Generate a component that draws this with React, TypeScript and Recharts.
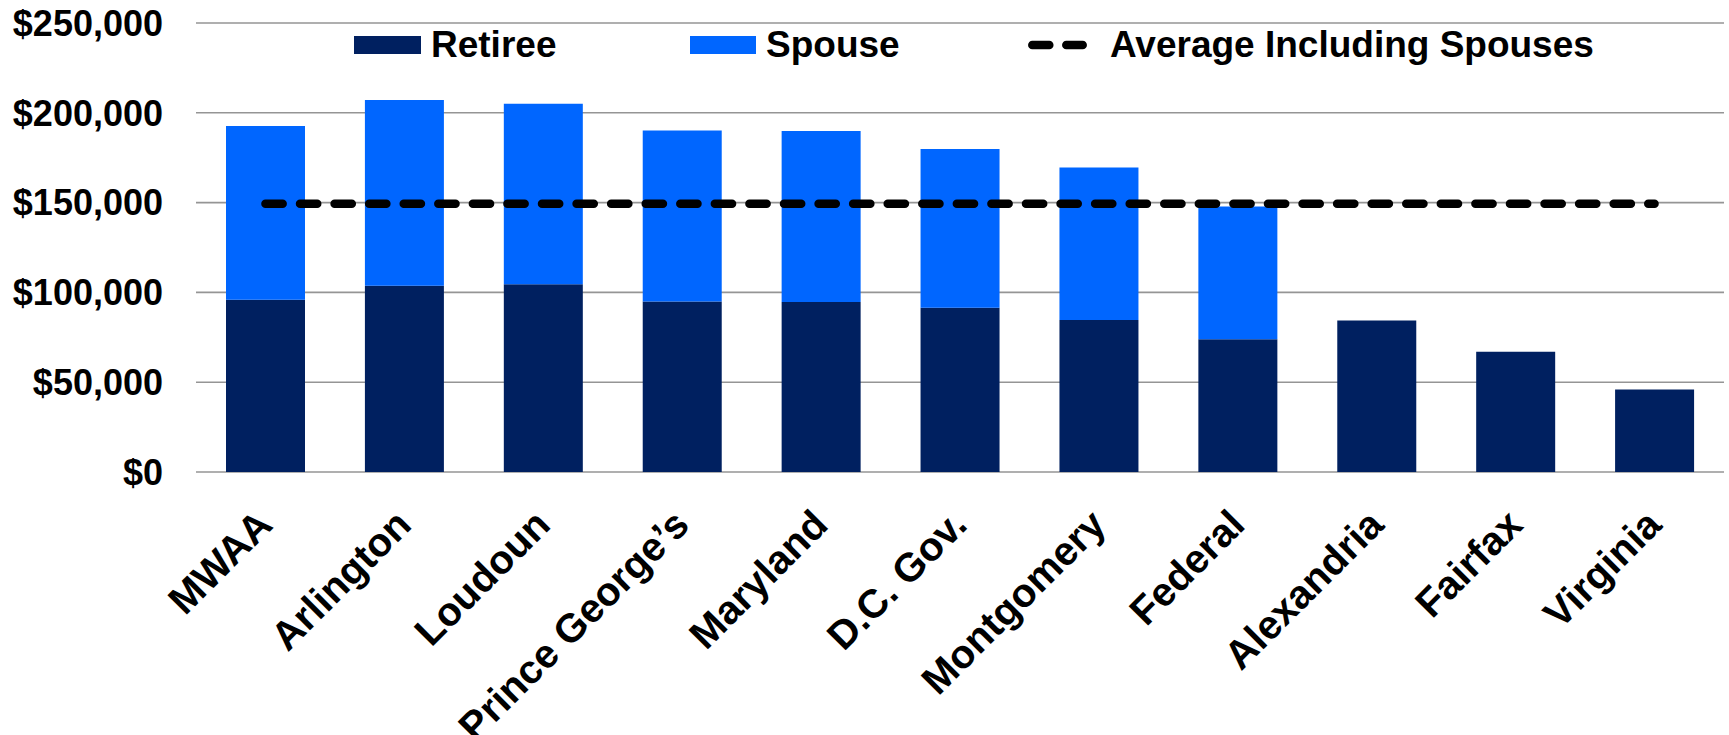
import React from 'react';
import { ComposedChart, Bar, Line, XAxis, YAxis, CartesianGrid, Legend } from 'recharts';

const categories = ['MWAA', 'Arlington', 'Loudoun', 'Prince George\u2019s', 'Maryland', 'D.C. Gov.', 'Montgomery', 'Federal', 'Alexandria', 'Fairfax', 'Virginia'];
const retireeValues = [95900, 103700, 104500, 95000, 94600, 91500, 84600, 73900, 84300, 67000, 45900];
const spouseTotals = [192700, 207100, 205000, 190100, 189800, 179900, 169500, 147800, null, null, null];
const averageIncludingSpouses = 149300;
const yTicks = [0, 50000, 100000, 150000, 200000, 250000];

const data = categories.map((name, i) => ({
  name,
  retiree: retireeValues[i],
  spouse: spouseTotals[i] == null ? 0 : (spouseTotals[i] as number) - retireeValues[i],
  average: averageIncludingSpouses,
}));

const FONT = '"Liberation Sans", Arial, Helvetica, sans-serif';
const NAVY = '#002060';
const BLUE = '#0066FF';

const fmt = (v: number) => '$' + v.toLocaleString('en-US');

const XTick = (props: any) => {
  const { x, y, payload } = props;
  const ax = x + 9;
  const ay = y + 55;
  return (
    <text
      x={ax}
      y={ay}
      textAnchor="end"
      transform={`rotate(-45, ${ax}, ${ay})`}
      fontFamily={FONT}
      fontWeight="bold"
      fontSize={40}
      fill="#000"
    >
      {payload.value}
    </text>
  );
};

const renderLegend = () => {
  const textStyle: React.CSSProperties = { fontFamily: FONT, fontWeight: 'bold', fontSize: 37, color: '#000', lineHeight: '44px', whiteSpace: 'nowrap' };
  return (
    <div style={{ display: 'flex', alignItems: 'center', height: 44 }}>
      <div style={{ display: 'flex', alignItems: 'center', width: 336 }}>
        <div style={{ width: 67, height: 18, background: NAVY, marginRight: 10 }} />
        <span style={textStyle}>Retiree</span>
      </div>
      <div style={{ display: 'flex', alignItems: 'center', width: 338 }}>
        <div style={{ width: 66, height: 18, background: BLUE, marginRight: 10 }} />
        <span style={textStyle}>Spouse</span>
      </div>
      <div style={{ display: 'flex', alignItems: 'center' }}>
        <svg width={59} height={12} style={{ marginRight: 23, display: 'block' }}>
          <line x1={4.3} y1={6} x2={54.7} y2={6} stroke="#000" strokeWidth={8.5} strokeLinecap="round" strokeDasharray="17 17" />
        </svg>
        <span style={textStyle}>Average Including Spouses</span>
      </div>
    </div>
  );
};

export default function App() {
  return (
    <div style={{ position: 'absolute', left: 0, top: 0, width: 1729, height: 735, background: '#fff' }}>
      <ComposedChart
        width={1729}
        height={735}
        data={data}
        margin={{ top: 23, right: 5, bottom: 0, left: 0 }}
      >
        <CartesianGrid vertical={false} stroke="#959595" strokeWidth={1.6} />
        <XAxis
          dataKey="name"
          height={263}
          axisLine={false}
          tickLine={false}
          tickSize={0}
          tickMargin={0}
          interval={0}
          tick={<XTick />}
        />
        <YAxis
          width={196}
          domain={[0, 250000]}
          ticks={yTicks}
          tickFormatter={fmt}
          axisLine={false}
          tickLine={false}
          tickSize={0}
          tickMargin={33}
          tick={{ fontFamily: FONT, fontWeight: 'bold', fontSize: 36, fill: '#000' }}
        />
        <Legend
          layout="horizontal"
          verticalAlign="middle"
          align="center"
          content={renderLegend}
          wrapperStyle={{ top: 23, left: 354, width: 1300, height: 44 }}
        />
        <Bar dataKey="retiree" name="Retiree" stackId="a" fill={NAVY} barSize={79} isAnimationActive={false} />
        <Bar dataKey="spouse" name="Spouse" stackId="a" fill={BLUE} barSize={79} isAnimationActive={false} />
        <Line
          dataKey="average"
          name="Average Including Spouses"
          stroke="#000"
          strokeWidth={8.5}
          strokeLinecap="round"
          strokeDasharray="17.2 17.37"
          dot={false}
          activeDot={false}
          isAnimationActive={false}
        />
      </ComposedChart>
    </div>
  );
}
